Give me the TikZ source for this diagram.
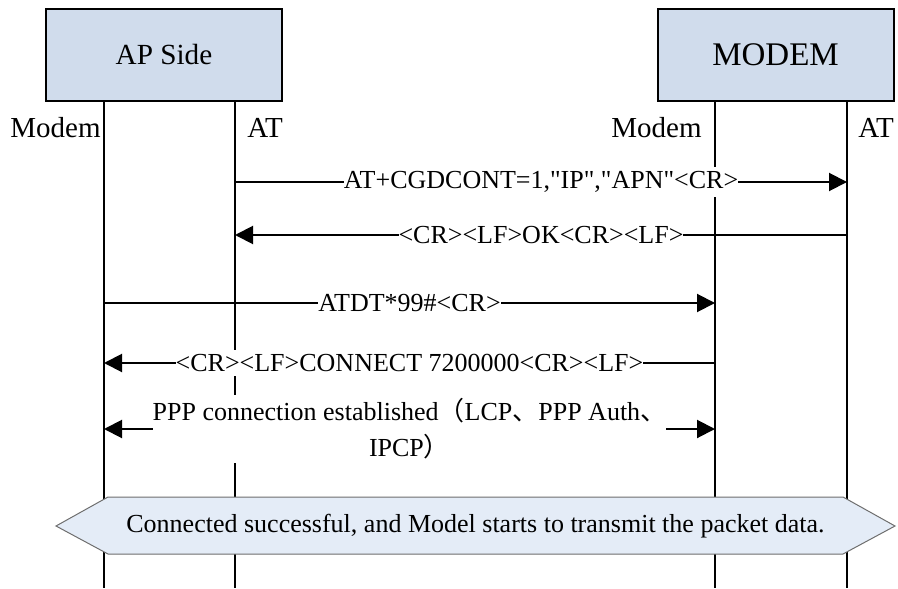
\documentclass[tikz,border=0pt]{standalone}
\usepackage{fontspec}
\setmainfont{Liberation Serif}
\newfontfamily\cjk{Noto Sans CJK SC}
\usepackage{tikz}
\usetikzlibrary{arrows.meta,positioning,calc}
\definecolor{SideBlue}{RGB}{208,220,236}
\definecolor{BannerBlue}{RGB}{228,236,247}
\definecolor{BannerEdge}{RGB}{110,110,110}

\begin{document}
\begin{tikzpicture}[x=0.5pt,y=-0.5pt,
    >={Triangle[length=9pt,width=9pt]},
    sidebox/.style={draw=black, line width=1pt, fill=SideBlue, minimum width=118pt, minimum height=46pt, inner sep=0pt},
    msg/.style={line width=1pt, ->},
    lbl/.style={fill=white, inner xsep=0pt, inner ysep=2pt, font=\fontsize{13}{18}\selectfont},
    tag/.style={inner sep=0pt, font=\fontsize{14.5}{17}\selectfont}]
  \useasboundingbox (0,0) rectangle (898,588);
  \node[sidebox, font=\fontsize{14.6}{17}\selectfont] (ap) at (164,55) {AP Side};
  \node[sidebox, font=\fontsize{16.5}{19}\selectfont] (md) at (775.5,55) {MODEM};
  \foreach \n/\x in {apmodem/104, apat/235, mdmodem/715, mdat/847} {
    \coordinate (\n) at (\x,101);
    \coordinate (\n end) at (\x,588);
    \draw[line width=1pt] (\n) -- (\n end);
  }
  \node[tag, anchor=base east] (tagapm) at (101,138) {Modem};
  \node[tag, anchor=base west] (tagapa) at (247,138) {AT};
  \node[tag, anchor=base east] (tagmdm) at (702,138) {Modem};
  \node[tag, anchor=base west] (tagmda) at (858,138) {AT};
  \draw[msg] (apat |- 0,182) -- node[lbl] (m1) {AT+CGDCONT=1,\textquotedbl IP\textquotedbl,\textquotedbl APN\textquotedbl<CR>} (mdat |- 0,182);
  \draw[msg] (mdat |- 0,235) -- node[lbl] (m2) {<CR><LF>OK<CR><LF>} (apat |- 0,235);
  \draw[msg] (apmodem |- 0,303) -- node[lbl] (m3) {ATDT*99\#<CR>} (mdmodem |- 0,303);
  \draw[msg] (mdmodem |- 0,363) -- node[lbl] (m4) {<CR><LF>CONNECT 7200000<CR><LF>} (apmodem |- 0,363);
  \draw[msg, <->] (apmodem |- 0,429) -- node[lbl, align=center] (ppp)
    {PPP connection established{\cjk （}LCP{\cjk 、}PPP Auth{\cjk 、}\\IPCP{\cjk ）}} (mdmodem |- 0,429);
  \draw[draw=BannerEdge, fill=BannerBlue, line width=0.5pt] (56,526) -- (108,497) -- (843,497) -- (895,526) -- (843,554) -- (108,554) -- cycle;
  \node[font=\fontsize{13}{16}\selectfont] (banner) at (475.5,526) {Connected successful, and Model starts to transmit the packet data.};
\end{tikzpicture}
\end{document}
